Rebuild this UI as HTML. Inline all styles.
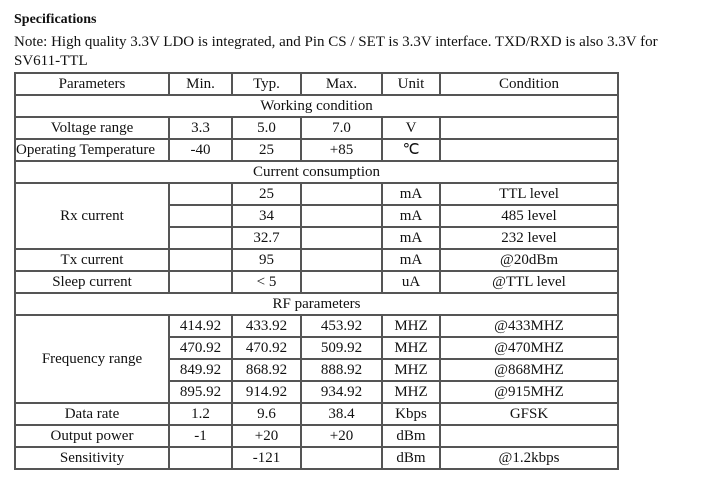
<!DOCTYPE html>
<html><head><meta charset="utf-8"><style>
body{margin:0;background:#fff;width:718px;height:480px;overflow:hidden;font-family:"Liberation Serif",serif;color:#111}
.t{position:absolute;left:14px;font-size:15px;white-space:nowrap}
table{position:absolute;left:14px;top:72px;border-collapse:collapse;table-layout:fixed;width:603px;font-size:15px}
tr{height:22px}
td{border:2px solid #555;height:20px;padding:0;text-align:center;line-height:20px}
</style></head><body>
<div class="t" style="top:12px;font-weight:bold;font-size:14px">Specifications</div>
<div class="t" style="top:34px">Note: High quality 3.3V LDO is integrated, and Pin CS / SET is 3.3V interface. TXD/RXD is also 3.3V for</div>
<div class="t" style="top:53px">SV611-TTL</div>
<table>
<colgroup><col style="width:154px"><col style="width:63px"><col style="width:69px"><col style="width:81px"><col style="width:58px"><col style="width:178px"></colgroup>
<tr><td>Parameters</td><td>Min.</td><td>Typ.</td><td>Max.</td><td>Unit</td><td>Condition</td></tr>
<tr><td colspan="6">Working condition</td></tr>
<tr><td>Voltage range</td><td>3.3</td><td>5.0</td><td>7.0</td><td>V</td><td></td></tr>
<tr><td style="text-align:left">Operating Temperature</td><td>-40</td><td>25</td><td>+85</td><td>℃</td><td></td></tr>
<tr><td colspan="6">Current consumption</td></tr>
<tr><td rowspan="3">Rx current</td><td></td><td>25</td><td></td><td>mA</td><td>TTL level</td></tr>
<tr><td></td><td>34</td><td></td><td>mA</td><td>485 level</td></tr>
<tr><td></td><td>32.7</td><td></td><td>mA</td><td>232 level</td></tr>
<tr><td>Tx current</td><td></td><td>95</td><td></td><td>mA</td><td>@20dBm</td></tr>
<tr><td>Sleep current</td><td></td><td>&lt; 5</td><td></td><td>uA</td><td>@TTL level</td></tr>
<tr><td colspan="6">RF parameters</td></tr>
<tr><td rowspan="4">Frequency range</td><td>414.92</td><td>433.92</td><td>453.92</td><td>MHZ</td><td>@433MHZ</td></tr>
<tr><td>470.92</td><td>470.92</td><td>509.92</td><td>MHZ</td><td>@470MHZ</td></tr>
<tr><td>849.92</td><td>868.92</td><td>888.92</td><td>MHZ</td><td>@868MHZ</td></tr>
<tr><td>895.92</td><td>914.92</td><td>934.92</td><td>MHZ</td><td>@915MHZ</td></tr>
<tr><td>Data rate</td><td>1.2</td><td>9.6</td><td>38.4</td><td>Kbps</td><td>GFSK</td></tr>
<tr><td>Output power</td><td>-1</td><td>+20</td><td>+20</td><td>dBm</td><td></td></tr>
<tr><td>Sensitivity</td><td></td><td>-121</td><td></td><td>dBm</td><td>@1.2kbps</td></tr>
</table>
</body></html>
